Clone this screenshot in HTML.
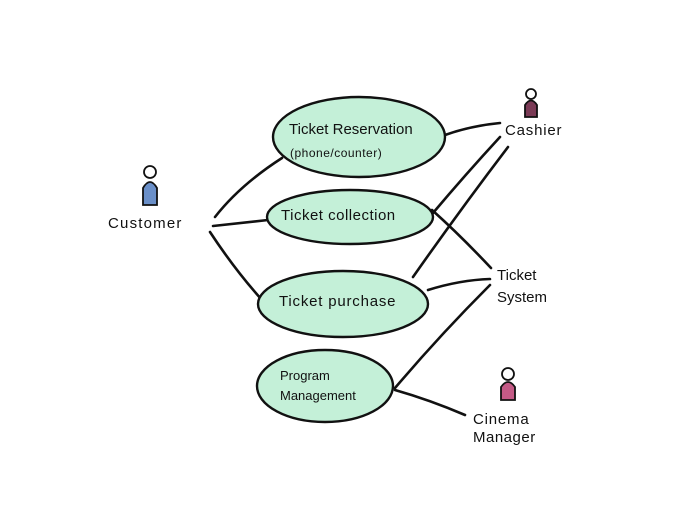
<!DOCTYPE html>
<html><head><meta charset="utf-8"><style>
html,body{margin:0;padding:0;background:#fff;}
svg{display:block}
text{font-family:"Liberation Sans",sans-serif;fill:#111;}
</style></head><body>
<svg width="700" height="524" viewBox="0 0 700 524" xmlns="http://www.w3.org/2000/svg">
<g stroke="#111" stroke-width="2.6" fill="none" stroke-linecap="round">
<path d="M215,217 Q240,185 282,158"/>
<path d="M213,226 L268,220"/>
<path d="M210,232 Q235,270 262,300"/>
<path d="M445,135 Q470,126 500,123"/>
<path d="M432,210 Q460,235 491,268"/>
<path d="M500,137 Q465,175 433,213"/>
<path d="M508,147 Q460,210 413,277"/>
<path d="M428,290 Q460,280 490,279"/>
<path d="M395,388 Q440,335 490,285"/>
<path d="M395,390 Q430,400 465,415"/>
</g>
<g fill="#c4f0d8" stroke="#111" stroke-width="2.4">
<ellipse cx="359" cy="137" rx="86" ry="40"/>
<ellipse cx="350" cy="217" rx="83" ry="27"/>
<ellipse cx="343" cy="304" rx="85" ry="33"/>
<ellipse cx="325" cy="386" rx="68" ry="36"/>
</g>
<g stroke="#111" stroke-width="1.8">
<circle cx="150" cy="172" r="6" fill="#fff"/>
<path d="M143,205 L143,188 Q150,176 157,188 L157,205 Z" fill="#6a8fc8"/>
<circle cx="531" cy="94" r="5" fill="#fff"/>
<path d="M525,117 L525,105 Q531,96 537,105 L537,117 Z" fill="#7a3a55"/>
<circle cx="508" cy="374" r="6" fill="#fff"/>
<path d="M501,400 L501,387 Q508,377 515,387 L515,400 Z" fill="#c45a86"/>
</g>
<g font-size="15">
<text x="289" y="134">Ticket Reservation</text>
<text x="290" y="157" font-size="12" letter-spacing="0.5">(phone/counter)</text>
<text x="281" y="220" letter-spacing="0.5">Ticket collection</text>
<text x="279" y="306" letter-spacing="0.8">Ticket purchase</text>
<text x="280" y="380" font-size="13">Program</text>
<text x="280" y="400" font-size="13">Management</text>
<text x="108" y="228" letter-spacing="1.2">Customer</text>
<text x="505" y="135" letter-spacing="0.8">Cashier</text>
<text x="497" y="280">Ticket</text>
<text x="497" y="302">System</text>
<text x="473" y="424" letter-spacing="0.8">Cinema</text>
<text x="473" y="442" letter-spacing="0.5">Manager</text>
</g>
</svg>
</body></html>
